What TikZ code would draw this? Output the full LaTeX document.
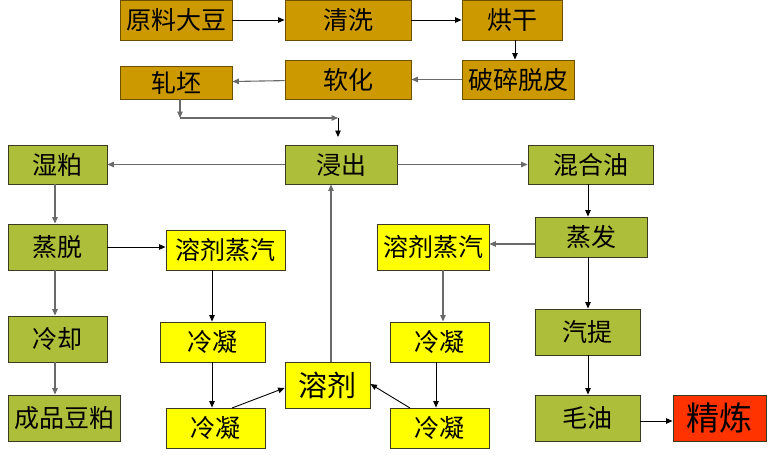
\documentclass[tikz,border=0pt]{standalone}
\usepackage{fontspec}
\setmainfont{Noto Sans CJK SC}
\usetikzlibrary{arrows.meta,shadows}
\definecolor{gold}{HTML}{CC9900}
\definecolor{goldline}{HTML}{6B5000}
\definecolor{olive}{HTML}{ADBE3A}
\definecolor{oliveline}{HTML}{3A3A20}
\definecolor{yel}{HTML}{FFFF00}
\definecolor{redbox}{HTML}{FF3300}
\definecolor{lgray}{HTML}{6A6A6A}
\tikzset{
  x=1pt,y=-1pt,
  box/.style={rectangle,inner sep=0pt,line width=0.9pt,font=\fontsize{25}{25}\selectfont,
    drop shadow={shadow xshift=1.2pt,shadow yshift=-1.2pt,fill=black,opacity=0.25}},
  goldbox/.style={box,fill=gold,draw=goldline},
  greenbox/.style={box,fill=olive,draw=oliveline},
  yelbox/.style={box,fill=yel,draw=oliveline},
  redb/.style={box,fill=redbox,draw=oliveline,font=\fontsize{33}{33}\selectfont},
  arr/.style={-{Triangle[length=6.5pt,width=5.5pt]},line width=0.9pt,draw=black},
  garr/.style={arr,line width=1.1pt,draw=lgray},
}
\begin{document}
\begin{tikzpicture}
\useasboundingbox (0,0) rectangle (779,458);
% top row
\node[goldbox,minimum width=112pt,minimum height=40pt] (yl) at (176,20) {原料大豆};
\node[goldbox,minimum width=126pt,minimum height=40pt] (qx) at (348,20) {清洗};
\node[goldbox,minimum width=100pt,minimum height=40pt] (hg) at (512,20) {烘干};
\node[goldbox,minimum width=112pt,minimum height=39pt] (ps) at (518,79.5) {破碎脱皮};
\node[goldbox,minimum width=126pt,minimum height=39pt] (rh) at (348,79.5) {软化};
\node[goldbox,minimum width=112pt,minimum height=33pt] (zp) at (176,82.5) {轧坯};
% green row
\node[greenbox,minimum width=99pt,minimum height=39pt] (sp) at (57.5,164.5) {湿粕};
\node[greenbox,minimum width=112pt,minimum height=39pt] (jc) at (341,164.5) {浸出};
\node[greenbox,minimum width=125pt,minimum height=39pt] (hhy) at (590.5,164.5) {混合油};
\node[greenbox,minimum width=99pt,minimum height=46pt] (zt) at (57.5,247) {蒸脱};
\node[greenbox,minimum width=112pt,minimum height=40pt] (zf) at (591,237) {蒸发};
\node[greenbox,minimum width=105pt,minimum height=46pt] (qt) at (587.5,332) {汽提};
\node[greenbox,minimum width=105pt,minimum height=46pt] (my) at (587.5,418) {毛油};
\node[greenbox,minimum width=99pt,minimum height=46pt] (lq) at (57.5,339) {冷却};
\node[greenbox,minimum width=112pt,minimum height=46pt] (cp) at (64,418) {成品豆粕};
\node[redb,minimum width=93pt,minimum height=46pt] (jl) at (719.5,418) {精炼};
% yellow
\node[yelbox,minimum width=119pt,minimum height=40pt] (rq1) at (225.5,250) {溶剂蒸汽};
\node[yelbox,minimum width=112pt,minimum height=46pt] (rq2) at (433,247) {溶剂蒸汽};
\node[yelbox,minimum width=105pt,minimum height=40pt] (ln1) at (212.5,342) {冷凝};
\node[yelbox,minimum width=99pt,minimum height=40pt] (ln2) at (215.5,428) {冷凝};
\node[yelbox,minimum width=99pt,minimum height=40pt] (ln3) at (439.5,342) {冷凝};
\node[yelbox,minimum width=99pt,minimum height=40pt] (ln4) at (439.5,428) {冷凝};
\node[yelbox,minimum width=85pt,minimum height=46pt,font=\fontsize{29}{29}\selectfont] (rj) at (327.5,385) {溶剂};
% top arrows
\draw[arr] (yl) -- (qx);
\draw[arr] (qx) -- (hg);
\draw[arr] (hg.south -| 515,0) -- (ps.north -| 515,0);
\draw[garr] (ps) -- (rh);
\draw[garr] (rh) -- (zp);
\coordinate (c1) at (180,118);
\coordinate (c2) at (338,118);
\coordinate (c3) at (338,137);
\draw[garr] (zp.south -| c1) -- (c1);
\draw[garr] (c1) -- (c2);
\draw[arr] (c2) -- (c3);
% green area
\draw[garr] (jc) -- (sp);
\draw[garr] (jc) -- (hhy);
\draw[garr] (sp.south -| 55,0) -- (zt.north -| 55,0);
\draw[garr] (zt.south -| 55,0) -- (lq.north -| 55,0);
\draw[garr] (lq.south -| 55,0) -- (cp.north -| 55,0);
\draw[arr] (zt) -- (zt -| rq1.west);
\draw[arr] (rq1.south -| 212,0) -- (ln1.north -| 212,0);
\draw[arr] (ln1.south -| 212,0) -- (ln2.north -| 212,0);
\draw[arr] (232,408) -- (rj.west |- 0,388);
\draw[arr] (410,408) -- (rj.east |- 0,384);
\draw[garr] (rj.north -| 331,0) -- (jc.south -| 331,0);
\draw[arr] (hhy.south -| 588,0) -- (zf.north -| 588,0);
\draw[garr] (zf.west |- 0,244) -- (rq2.east |- 0,244);
\draw[garr] (rq2.south -| 443,0) -- (ln3.north -| 443,0);
\draw[arr] (ln3.south -| 436,0) -- (ln4.north -| 436,0);
\draw[arr] (zf.south -| 588,0) -- (qt.north -| 588,0);
\draw[arr] (qt.south -| 588,0) -- (my.north -| 588,0);
\draw[arr] (my.east |- 0,421) -- (jl.west |- 0,421);
\end{tikzpicture}
\end{document}
